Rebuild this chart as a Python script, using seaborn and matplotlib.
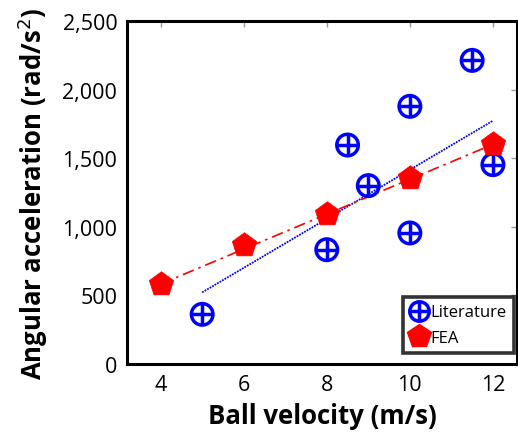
import matplotlib
matplotlib.use("Agg")
import matplotlib.pyplot as plt
from matplotlib.legend_handler import HandlerTuple
from matplotlib.lines import Line2D
import seaborn as sns
import pandas as pd

# Data
lit_velocity = [5, 8, 8.5, 9, 10, 10, 11.5, 12]
lit_accel = [362, 833, 1596, 1300, 1878, 955, 2213, 1453]
fea_velocity = [4, 6, 8, 10, 12]
fea_accel = [583, 867, 1093, 1356, 1601]
lit_fit_velocity = [5, 12]
lit_fit_accel = [522, 1773]
fea_fit_velocity = [4, 12]
fea_fit_accel = [583, 1601]
x_ticks = [4, 6, 8, 10, 12]
y_ticks = [0, 500, 1000, 1500, 2000, 2500]

sns.set_style("white")
plt.rcParams['font.family'] = ['Open Sans', 'DejaVu Sans']
plt.rcParams['text.color'] = 'black'
plt.rcParams['axes.labelcolor'] = 'black'

fig = plt.figure(figsize=(5.18, 4.35), dpi=100)
ax = fig.add_axes([127/518, 1 - 365/435, (517-127)/518, (365-22)/435])

lit = pd.DataFrame({"v": lit_velocity, "a": lit_accel})
fea = pd.DataFrame({"v": fea_velocity, "a": fea_accel})

sns.lineplot(x=lit_fit_velocity, y=lit_fit_accel, ax=ax, color="blue",
             linestyle=(0, (1, 0.6)), linewidth=1.3, zorder=2)
sns.lineplot(x=fea_fit_velocity, y=fea_fit_accel, ax=ax, color="red",
             linestyle=(0, (7, 3, 1.5, 3)), linewidth=1.2, zorder=2)

sns.scatterplot(data=lit, x="v", y="a", ax=ax, marker="o", s=240,
                facecolor="none", edgecolor="blue", linewidth=2.5, zorder=3)
sns.scatterplot(data=lit, x="v", y="a", ax=ax, marker="+", s=240,
                color="blue", linewidth=2.5, zorder=3)
sns.scatterplot(data=fea, x="v", y="a", ax=ax, marker="p", s=340,
                color="red", edgecolor="red", linewidth=0.5, zorder=4)

ax.set_xlim(3.19, 12.58)
ax.set_ylim(0, 2500)
ax.set_xticks(x_ticks)
ax.set_yticks(y_ticks)
ax.set_yticklabels([f"{t:,}" for t in y_ticks])
ax.tick_params(direction="in", length=4, color="#999999", width=1,
               top=True, right=True, labelsize=15.5, pad=7, labelcolor="black")
for s in ax.spines.values():
    s.set_linewidth(2.2)
    s.set_color("black")

ax.set_xlabel("Ball velocity (m/s)", fontsize=18.5, fontweight="bold",
              labelpad=5, color="black")
ax.set_ylabel("Angular acceleration (rad/s$^2$)", fontsize=18.5,
              fontweight="bold", labelpad=9, color="black")

h_circ = Line2D([], [], marker="o", linestyle="none", markersize=14,
                markerfacecolor="none", markeredgecolor="blue", markeredgewidth=2.5)
h_plus = Line2D([], [], marker="+", linestyle="none", markersize=14,
                color="blue", markeredgewidth=2.5)
h_pent = Line2D([], [], marker="p", linestyle="none", markersize=18,
                color="red")
leg = ax.legend([(h_circ, h_plus), h_pent], ["Literature", "FEA"],
                handler_map={tuple: HandlerTuple(ndivide=1, pad=0)},
                loc="lower right", bbox_to_anchor=(0.992, 0.032),
                fontsize=12, frameon=True, fancybox=False,
                handlelength=1.1, handletextpad=0.1, borderpad=0.45,
                labelspacing=0.55, borderaxespad=0.0)
leg.get_frame().set_edgecolor("black")
leg.get_frame().set_linewidth(2.6)

fig.savefig("out.png", dpi=100)
